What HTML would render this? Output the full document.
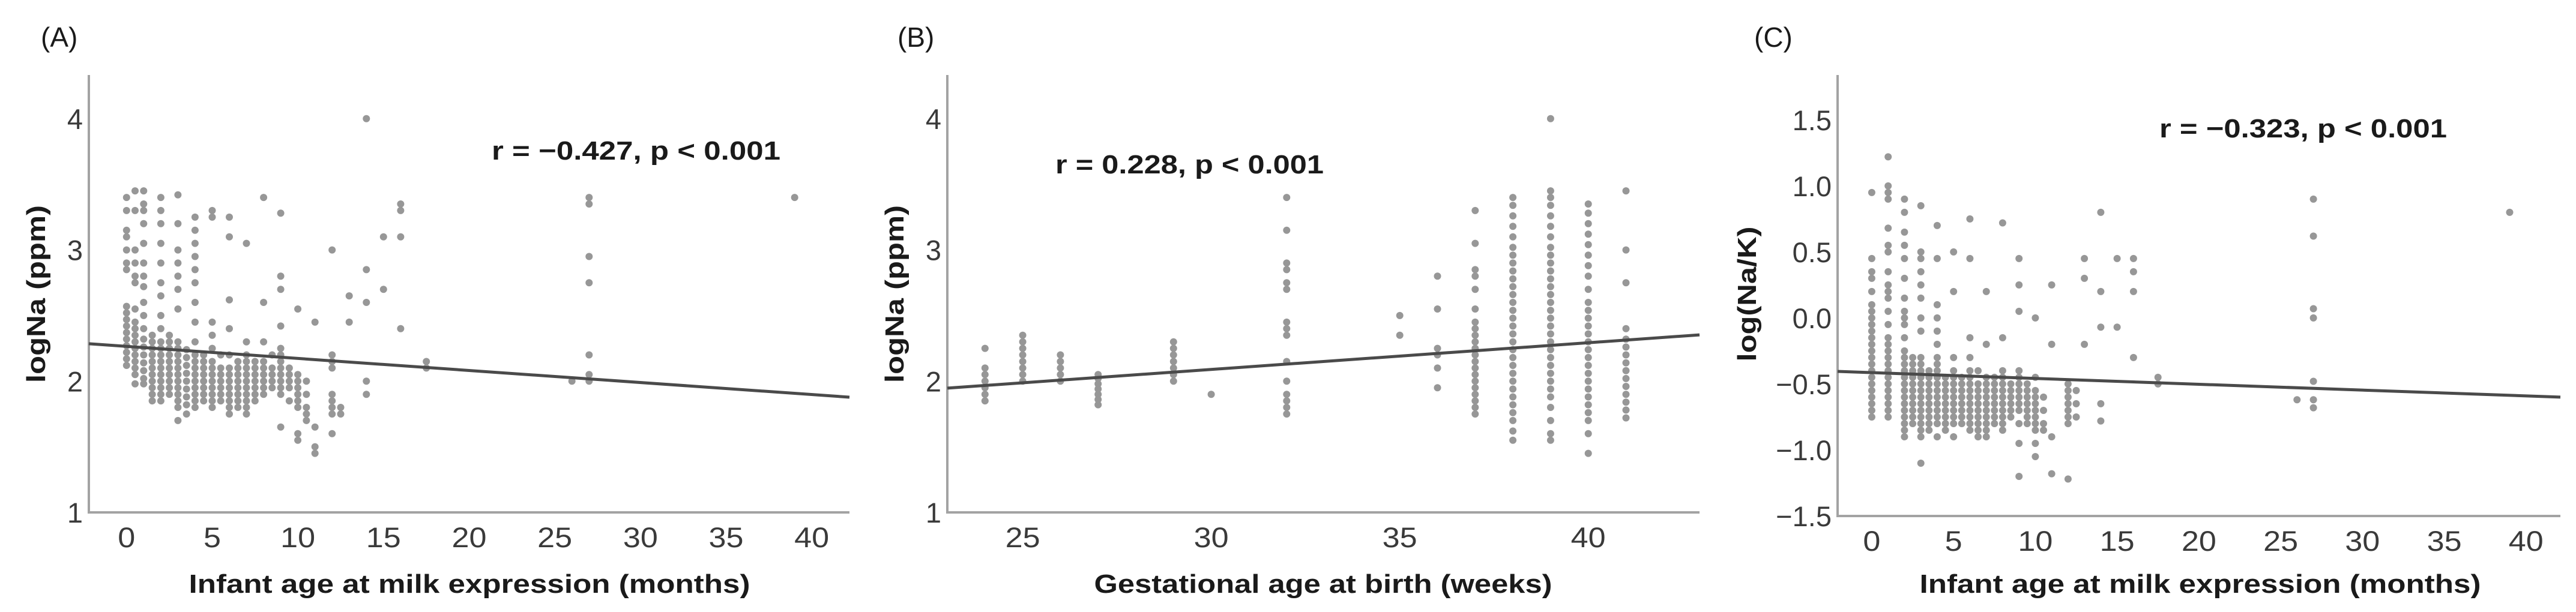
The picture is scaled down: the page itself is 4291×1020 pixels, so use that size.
<!DOCTYPE html>
<html>
<head>
<meta charset="utf-8">
<style>
  html,body{margin:0;padding:0;background:#fff;}
  svg{display:block;}
  text{font-family:"Liberation Sans",Arial,sans-serif;}
</style>
</head>
<body>
<svg id="fig" width="4291" height="1020" viewBox="0 0 4291 1020" xmlns="http://www.w3.org/2000/svg">
  <rect x="0" y="0" width="4291" height="1020" fill="#fff"/>
</svg>
<script>
// ---------- Panel A data: infant age (months) vs logNa ----------
const aCols = [0,0.5,1,1.5,2,2.5,3,3.5,4,4.5,5,5.5,6,6.5,7,7.5,8,8.5,9,9.5,10,10.5,11,12,12.5,13,14,15,16,17.5,26,27,39];
const aVals = [
  [2.12,2.17,2.22,2.27,2.32,2.37,2.42,2.47,2.52,2.57,2.85,2.9,3.0,3.1,3.15,3.3,3.4],
  [1.98,2.05,2.1,2.15,2.2,2.25,2.3,2.35,2.4,2.45,2.55,2.75,2.8,2.9,3.0,3.3,3.45],
  [1.98,2.02,2.08,2.14,2.2,2.26,2.32,2.4,2.5,2.6,2.72,2.8,2.9,3.05,3.2,3.3,3.35,3.45],
  [1.85,1.9,1.95,2.0,2.05,2.1,2.15,2.2,2.25,2.3,2.35],
  [1.85,1.9,1.95,2.0,2.05,2.1,2.15,2.2,2.25,2.3,2.4,2.5,2.65,2.75,2.9,3.05,3.2,3.3,3.4],
  [1.9,1.95,2.0,2.05,2.1,2.15,2.2,2.25,2.3,2.35],
  [1.7,1.8,1.85,1.9,1.95,2.0,2.05,2.1,2.15,2.2,2.25,2.3,2.55,2.7,2.8,2.9,3.0,3.2,3.42],
  [1.75,1.82,1.88,1.94,2.0,2.06,2.12,2.18,2.24],
  [1.8,1.85,1.9,1.95,2.0,2.05,2.1,2.15,2.2,2.3,2.45,2.6,2.75,2.85,2.95,3.05,3.15,3.25],
  [1.85,1.9,1.95,2.0,2.05,2.1,2.15,2.2],
  [1.8,1.85,1.9,1.95,2.0,2.05,2.1,2.15,2.25,2.35,2.45,3.25,3.3],
  [1.85,1.9,1.95,2.0,2.05,2.1,2.2],
  [1.75,1.8,1.85,1.9,1.95,2.0,2.05,2.1,2.2,2.4,2.62,3.1,3.25],
  [1.8,1.85,1.9,1.95,2.0,2.05,2.1,2.15],
  [1.75,1.8,1.85,1.9,1.95,2.0,2.05,2.1,2.15,2.2,2.3,3.05],
  [1.85,1.9,1.95,2.0,2.05,2.1,2.15],
  [1.9,1.95,2.0,2.05,2.1,2.15,2.3,2.6,3.4],
  [1.95,2.0,2.05,2.1,2.2],
  [1.65,1.9,1.95,2.0,2.05,2.1,2.15,2.2,2.25,2.42,2.7,2.8,3.28],
  [1.85,1.95,2.0,2.05,2.1],
  [1.55,1.6,1.8,1.85,1.9,1.95,2.0,2.05,2.55],
  [1.7,1.75,1.8,1.9,2.0],
  [1.45,1.5,1.65,2.45],
  [1.6,1.75,1.8,1.85,1.9,2.1,2.15,2.2,3.0],
  [1.75,1.8],
  [2.45,2.65],
  [1.9,2.0,2.6,2.85,4.0],
  [2.7,3.1],
  [2.4,3.1,3.3,3.35],
  [2.1,2.15],
  [2.0],
  [2.0,2.05,2.2,2.75,2.95,3.35,3.4],
  [3.4]
];
const aXTicks = [0,5,10,15,20,25,30,35,40];
const aYTicks = [1,2,3,4];
const aFit = [2.265,-0.00917]; // intercept, slope

// ---------- Panel B data: gestational age (weeks) vs logNa ----------
const bCols = [24,25,26,27,29,30,32,35,36,37,38,39,40,41];
const bVals = [
  [1.85,1.9,1.95,2.0,2.05,2.1,2.25],
  [2.0,2.05,2.1,2.15,2.2,2.25,2.3,2.35],
  [2.0,2.05,2.1,2.15,2.2],
  [1.82,1.86,1.9,1.94,1.98,2.02,2.05],
  [2.0,2.05,2.1,2.15,2.2,2.25,2.3],
  [1.9],
  [1.75,1.8,1.85,1.9,2.0,2.15,2.35,2.4,2.45,2.7,2.75,2.85,2.9,3.15,3.4],
  [2.35,2.5],
  [1.95,2.1,2.2,2.25,2.55,2.8],
  [1.75,1.8,1.85,1.9,1.95,2.0,2.05,2.1,2.15,2.2,2.25,2.3,2.35,2.4,2.45,2.55,2.7,2.8,2.85,3.05,3.3],
  [1.55,1.62,1.7,1.76,1.82,1.88,1.94,2.0,2.06,2.12,2.18,2.24,2.3,2.36,2.42,2.48,2.54,2.6,2.66,2.72,2.78,2.84,2.9,2.96,3.02,3.1,3.18,3.26,3.34,3.4],
  [1.55,1.6,1.7,1.8,1.88,1.94,2.0,2.06,2.12,2.18,2.24,2.3,2.36,2.42,2.48,2.54,2.6,2.66,2.72,2.78,2.84,2.9,2.96,3.02,3.1,3.18,3.26,3.34,3.4,3.45,4.0],
  [1.45,1.6,1.7,1.76,1.82,1.88,1.94,2.0,2.06,2.12,2.18,2.24,2.3,2.36,2.42,2.48,2.54,2.6,2.7,2.8,2.88,2.96,3.04,3.12,3.2,3.28,3.35],
  [1.72,1.78,1.84,1.9,1.96,2.02,2.08,2.14,2.2,2.26,2.32,2.4,2.75,3.0,3.45]
];
const bXTicks = [25,30,35,40];
const bYTicks = [1,2,3,4];
const bFit = [1.947,0.02035]; // value at x=23, slope

// ---------- Panel C data: infant age (months) vs log(Na/K) ----------
const cCols = [0,1,2,2.5,3,3.5,4,4.5,5,5.5,6,6.5,7,7.5,8,8.5,9,9.5,10,10.5,11,12,12.5,13,14,15,16,17.5,26,27,39];
const cVals = [
  [-0.75,-0.7,-0.65,-0.6,-0.55,-0.5,-0.45,-0.4,-0.35,-0.3,-0.25,-0.2,-0.15,-0.1,-0.05,0.0,0.05,0.1,0.2,0.3,0.35,0.45,0.95],
  [-0.75,-0.7,-0.65,-0.6,-0.55,-0.5,-0.45,-0.4,-0.35,-0.3,-0.25,-0.2,-0.15,-0.05,0.05,0.15,0.2,0.25,0.35,0.5,0.55,0.68,0.9,0.95,1.0,1.22],
  [-0.9,-0.85,-0.8,-0.75,-0.7,-0.65,-0.6,-0.55,-0.5,-0.45,-0.4,-0.35,-0.3,-0.25,-0.15,-0.05,0.0,0.05,0.15,0.3,0.45,0.55,0.65,0.8,0.9],
  [-0.8,-0.75,-0.7,-0.65,-0.6,-0.55,-0.5,-0.45,-0.4,-0.35,-0.3],
  [-1.1,-0.9,-0.85,-0.8,-0.75,-0.7,-0.65,-0.6,-0.55,-0.5,-0.45,-0.4,-0.35,-0.3,-0.1,0.0,0.15,0.25,0.35,0.45,0.5,0.85],
  [-0.85,-0.8,-0.75,-0.7,-0.65,-0.6,-0.55,-0.5,-0.45,-0.4],
  [-0.9,-0.8,-0.75,-0.7,-0.65,-0.6,-0.55,-0.5,-0.45,-0.4,-0.35,-0.3,-0.2,-0.1,0.0,0.1,0.45,0.7],
  [-0.85,-0.8,-0.75,-0.7,-0.65,-0.6,-0.55,-0.5,-0.45],
  [-0.9,-0.8,-0.75,-0.7,-0.65,-0.6,-0.55,-0.5,-0.45,-0.4,-0.3,0.2,0.5],
  [-0.8,-0.75,-0.7,-0.65,-0.6,-0.55,-0.5,-0.45],
  [-0.85,-0.8,-0.75,-0.7,-0.65,-0.6,-0.55,-0.5,-0.45,-0.4,-0.3,-0.15,0.45,0.75],
  [-0.9,-0.85,-0.8,-0.75,-0.7,-0.65,-0.6,-0.55,-0.5,-0.4],
  [-0.9,-0.85,-0.8,-0.75,-0.7,-0.65,-0.6,-0.55,-0.5,-0.45,-0.2,0.2],
  [-0.8,-0.75,-0.7,-0.65,-0.6,-0.55,-0.5,-0.45],
  [-0.85,-0.8,-0.75,-0.7,-0.65,-0.6,-0.55,-0.5,-0.45,-0.4,-0.15,0.72],
  [-0.75,-0.7,-0.65,-0.6,-0.55,-0.5],
  [-1.2,-0.95,-0.8,-0.7,-0.65,-0.6,-0.55,-0.5,-0.45,-0.4,0.05,0.25,0.45],
  [-0.8,-0.75,-0.7,-0.65,-0.6,-0.55,-0.5],
  [-1.05,-0.95,-0.85,-0.8,-0.75,-0.7,-0.65,-0.6,-0.55,-0.45,0.0],
  [-0.85,-0.8,-0.7,-0.6],
  [-1.18,-0.9,-0.2,0.25],
  [-1.22,-0.8,-0.75,-0.7,-0.65,-0.6,-0.55,-0.5],
  [-0.75,-0.65,-0.55],
  [-0.2,0.3,0.45],
  [-0.78,-0.65,-0.07,0.2,0.8],
  [-0.07,0.45],
  [-0.3,0.2,0.35,0.45],
  [-0.5,-0.45],
  [-0.62],
  [-0.68,-0.62,-0.48,0.0,0.07,0.62,0.9],
  [0.8]
];
const cXTicks = [0,5,10,15,20,25,30,35,40];
const cYTicks = [-1.5,-1.0,-0.5,0.0,0.5,1.0,1.5];
const cFit = [-0.414,-0.00441]; // intercept at x=0, slope

const NS = 'http://www.w3.org/2000/svg';
const svg = document.getElementById('fig');
function mk(tag, attrs, parent) {
  const e = document.createElementNS(NS, tag);
  for (const k in attrs) e.setAttribute(k, attrs[k]);
  (parent || svg).appendChild(e);
  return e;
}
function fmtC(v) { return (v < 0 ? '\u2212' : '') + Math.abs(v).toFixed(1); }

function panel(cfg) {
  const g = mk('g', {});
  
  
  const sx = v => cfg.x0 + (v - cfg.xmin) / (cfg.xmax - cfg.xmin) * (cfg.x1 - cfg.x0);
  const sy = v => cfg.yb - (v - cfg.ymin) / (cfg.ymax - cfg.ymin) * (cfg.yb - cfg.yt);

  const pg = mk('g', {fill: '#979797'}, g);
  
  
  cfg.cols.forEach((cx, i) => {
    cfg.vals[i].forEach(v => {
      const c = mk('circle', {cx: sx(cx).toFixed(1), cy: sy(v).toFixed(1), r: 6}, pg);
      
      
    });
  });

  const ya = mk('line', {x1: cfg.x0, y1: cfg.yt, x2: cfg.x0, y2: cfg.yb, stroke: '#a3a3a3', 'stroke-width': 4}, g);
  
  
  const xa = mk('line', {x1: cfg.x0 - 2, y1: cfg.yb, x2: cfg.x1, y2: cfg.yb, stroke: '#a3a3a3', 'stroke-width': 4}, g);
  
  

  const fy = x => cfg.fit[0] + cfg.fit[1] * (x - cfg.fitRef);
  const fl = mk('line', {x1: cfg.x0, y1: sy(fy(cfg.xmin)).toFixed(1), x2: cfg.x1, y2: sy(fy(cfg.xmax)).toFixed(1), stroke: '#4a4a4a', 'stroke-width': 5}, g);
  
  

  cfg.xticks.forEach(t => {
    const s = String(t);
    const tx = mk('text', {x: sx(t).toFixed(1), y: cfg.yb + 58, 'text-anchor': 'middle', 'font-size': 47, fill: '#3a3a3a', textLength: 29 * s.length, lengthAdjust: 'spacingAndGlyphs'}, g);
    tx.textContent = s;
    
    
  });
  cfg.yticks.forEach(t => {
    const s = cfg.yfmt(t);
    const ty = mk('text', {x: cfg.x0 - 10, y: (sy(t) + 17).toFixed(1), 'text-anchor': 'end', 'font-size': 47, fill: '#3a3a3a'}, g);
    ty.textContent = s;
    
    
  });

  const xl = mk('text', {x: cfg.xlx, y: 988, 'text-anchor': 'middle', 'font-size': 44, 'font-weight': 'bold', fill: '#1a1a1a', textLength: cfg.xlw, lengthAdjust: 'spacingAndGlyphs'}, g);
  xl.textContent = cfg.xlabel;
  
  
  const yl = mk('text', {x: 0, y: 0, 'text-anchor': 'middle', 'font-size': 44, 'font-weight': 'bold', fill: '#1a1a1a', textLength: cfg.ylw, lengthAdjust: 'spacingAndGlyphs', transform: `translate(${cfg.ylx},${cfg.yly}) rotate(-90)`}, g);
  yl.textContent = cfg.ylabel;
  
  
  const an = mk('text', {x: cfg.anx, y: cfg.any, 'font-size': 44, 'font-weight': 'bold', fill: '#1a1a1a', textLength: cfg.anw, lengthAdjust: 'spacingAndGlyphs'}, g);
  an.textContent = cfg.annot;
  
  
  const pl = mk('text', {x: cfg.plx, y: 78, 'font-size': 46, fill: '#1a1a1a'}, g);
  pl.textContent = cfg.letter;
  
  
}

panel({name: 'panel-a', x0: 148, x1: 1415, xmin: -2.2, xmax: 42.2, yt: 125, yb: 854, ymin: 1, ymax: 4.333,
  cols: aCols, vals: aVals, xticks: aXTicks, yticks: aYTicks, yfmt: v => String(v),
  fit: aFit, fitRef: 0,
  xlabel: 'Infant age at milk expression (months)', xlx: 782, xlw: 935,
  ylabel: 'logNa (ppm)', ylx: 75, yly: 490, ylw: 296,
  annot: 'r = \u22120.427, p < 0.001', anx: 819, any: 266, anw: 481,
  letter: '(A)', plx: 68});

panel({name: 'panel-b', x0: 1578, x1: 2831, xmin: 23.0, xmax: 42.95, yt: 125, yb: 854, ymin: 1, ymax: 4.333,
  cols: bCols, vals: bVals, xticks: bXTicks, yticks: bYTicks, yfmt: v => String(v),
  fit: bFit, fitRef: 23,
  xlabel: 'Gestational age at birth (weeks)', xlx: 2204, xlw: 763,
  ylabel: 'logNa (ppm)', ylx: 1505, yly: 490, ylw: 296,
  annot: 'r = 0.228, p < 0.001', anx: 1758, any: 289, anw: 447,
  letter: '(B)', plx: 1495});

panel({name: 'panel-c', x0: 3061, x1: 4265, xmin: -2.09, xmax: 42.1, yt: 125, yb: 860, ymin: -1.5, ymax: 1.84,
  cols: cCols, vals: cVals, xticks: cXTicks, yticks: cYTicks, yfmt: fmtC,
  fit: cFit, fitRef: 0,
  xlabel: 'Infant age at milk expression (months)', xlx: 3665, xlw: 935,
  ylabel: 'log(Na/K)', ylx: 2925, yly: 490, ylw: 225,
  annot: 'r = \u22120.323, p < 0.001', anx: 3597, any: 229, anw: 479,
  letter: '(C)', plx: 2922});
</script>
</body>
</html>
